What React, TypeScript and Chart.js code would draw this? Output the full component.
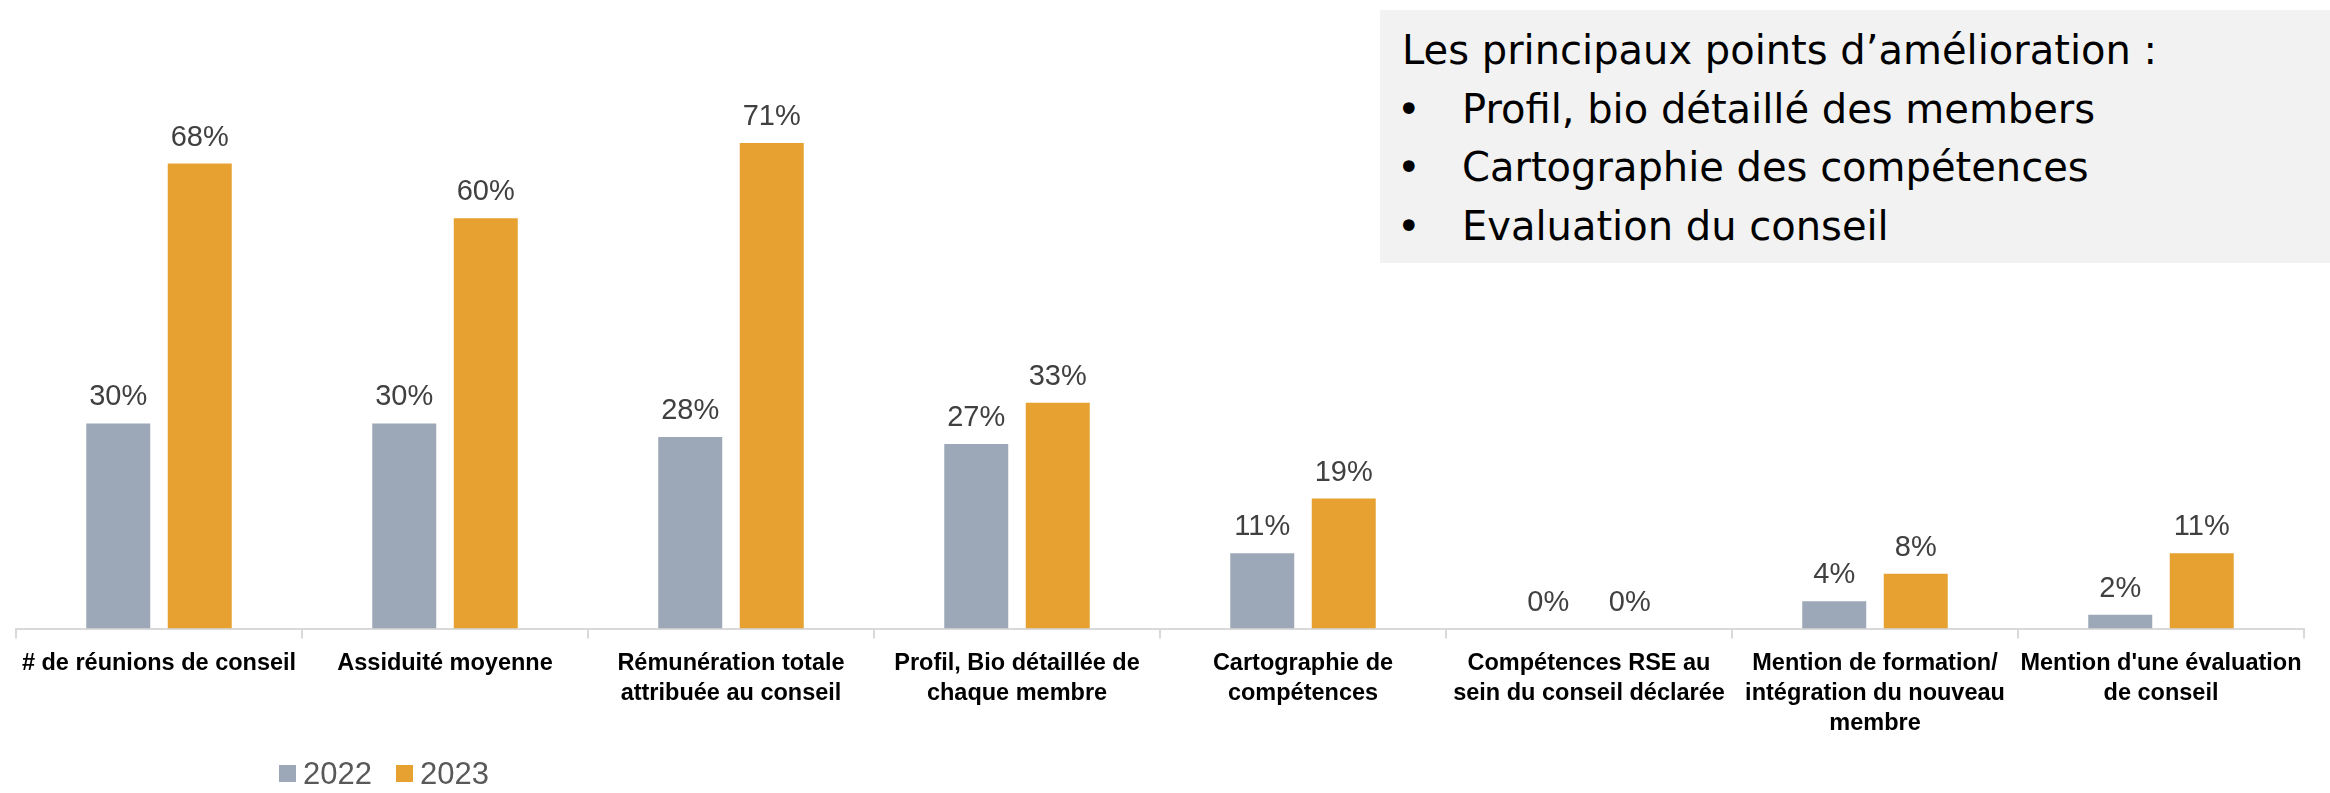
import React, { useEffect, useRef } from "react";
import { Chart, registerables } from "chart.js";

Chart.register(...registerables);

const CATEGORIES: (string | string[])[] = [
  "# de réunions de conseil",
  "Assiduité moyenne",
  ["Rémunération totale", "attribuée au conseil"],
  ["Profil, Bio détaillée de", "chaque membre"],
  ["Cartographie de", "compétences"],
  ["Compétences RSE au", "sein du conseil déclarée"],
  ["Mention de formation/", "intégration du nouveau", "membre"],
  ["Mention d'une évaluation", "de conseil"],
];

const SERIES_LABELS = ["2022", "2023"];
const VALUES_2022 = [30, 30, 28, 27, 11, 0, 4, 2];
const VALUES_2023 = [68, 60, 71, 33, 19, 0, 8, 11];
const SERIES_COLORS = ["#9CA8B7", "#E6A131"];

const NOTE_TITLE = "Les principaux points d’amélioration :";
const NOTE_BULLETS = [
  "Profil, bio détaillé des members",
  "Cartographie des compétences",
  "Evaluation du conseil",
];

const LABEL_FONT = '"Liberation Sans", Arial, sans-serif';

const dataLabelPlugin = {
  id: "dataLabels",
  afterDatasetsDraw(chart: any) {
    const ctx = chart.ctx;
    ctx.save();
    ctx.font = `29px ${LABEL_FONT}`;
    ctx.fillStyle = "#404040";
    ctx.textAlign = "center";
    ctx.textBaseline = "alphabetic";
    chart.data.datasets.forEach((ds: any, di: number) => {
      const meta = chart.getDatasetMeta(di);
      meta.data.forEach((el: any, i: number) => {
        const v = ds.data[i];
        ctx.fillText(`${v}%`, el.x, el.y - 18);
      });
    });
    ctx.restore();
  },
};

export default function App() {
  const canvasRef = useRef<HTMLCanvasElement | null>(null);

  useEffect(() => {
    if (!canvasRef.current) return;
    const chart = new Chart(canvasRef.current, {
      type: "bar",
      data: {
        labels: CATEGORIES,
        datasets: [
          {
            label: SERIES_LABELS[0],
            data: VALUES_2022,
            backgroundColor: SERIES_COLORS[0],
            borderWidth: 0,
            categoryPercentage: 0.57,
            barPercentage: 0.785,
          },
          {
            label: SERIES_LABELS[1],
            data: VALUES_2023,
            backgroundColor: SERIES_COLORS[1],
            borderWidth: 0,
            categoryPercentage: 0.57,
            barPercentage: 0.785,
          },
        ],
      },
      options: {
        animation: false,
        responsive: false,
        maintainAspectRatio: false,
        layout: { padding: { left: 16, right: 26, top: 81.5, bottom: 0 } },
        plugins: {
          legend: { display: false },
          tooltip: { enabled: false },
        },
        scales: {
          y: {
            display: false,
            min: 0,
            max: 80,
          },
          x: {
            offset: true,
            grid: {
              display: true,
              offset: true,
              drawOnChartArea: false,
              drawTicks: true,
              tickLength: 10,
              color: "#D9D9D9",
              lineWidth: 2,
            },
            border: { display: true, color: "#D9D9D9", width: 2 },
            ticks: {
              color: "#000000",
              padding: 10,
              maxRotation: 0,
              autoSkip: false,
              font: { family: LABEL_FONT, size: 23.5, weight: "bold", lineHeight: 30 / 23.5 },
            },
            afterFit: (scale: any) => {
              scale.height = 164.5;
            },
          },
        },
      },
      plugins: [dataLabelPlugin],
    });
    return () => chart.destroy();
  }, []);

  return (
    <div style={{ position: "fixed", left: 0, top: 0, width: 2330, height: 793, background: "#fff", overflow: "hidden" }}>
      <canvas ref={canvasRef} width={2330} height={793} style={{ position: "absolute", left: 0, top: 0, width: 2330, height: 793 }} />
      <div
        style={{
          position: "absolute",
          left: 1380,
          top: 10,
          width: 950,
          height: 253,
          background: "#F2F2F2",
          boxSizing: "border-box",
          padding: "11px 0 0 22px",
          fontFamily: '"DejaVu Sans", sans-serif',
          fontSize: 40,
          lineHeight: "58.5px",
          color: "#000",
          whiteSpace: "nowrap",
        }}
      >
        <div>{NOTE_TITLE}</div>
        {NOTE_BULLETS.map((b) => (
          <div key={b} style={{ display: "flex" }}>
            <span style={{ width: 60, flex: "none", position: "relative", left: -5 }}>•</span>
            <span>{b}</span>
          </div>
        ))}
      </div>
      <div
        style={{
          position: "absolute",
          left: 279,
          top: 758,
          display: "flex",
          alignItems: "flex-start",
          fontFamily: LABEL_FONT,
          fontSize: 31,
          lineHeight: "31px",
          color: "#595959",
          whiteSpace: "nowrap",
        }}
      >
        {SERIES_LABELS.map((l, i) => (
          <div key={l} style={{ display: "flex", alignItems: "flex-start", marginRight: 24 }}>
            <span style={{ width: 17, height: 17, marginTop: 7, marginRight: 7, background: SERIES_COLORS[i], display: "inline-block" }} />
            <span>{l}</span>
          </div>
        ))}
      </div>
    </div>
  );
}
